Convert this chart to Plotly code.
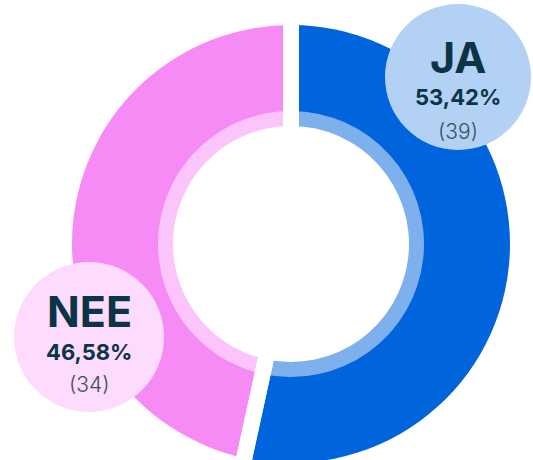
import plotly.graph_objects as go

labels = ["JA", "NEE"]
values = [39, 34]
percent_labels = ["53,42%", "46,58%"]
count_labels = ["(39)", "(34)"]

dark_colors = ["#0064DC", "#F78BF6"]
band_colors = ["#7EB0EE", "#FBC4FB"]
bubble_colors = ["#B3D1F5", "#FCDBFC"]
text_color = "#0B3447"

W, H = 533, 490
CX, CY = 291, 244  # donut centre in pixels from top-left


def dom(r):
    return dict(x=[(CX - r) / W, (CX + r) / W],
                y=[(H - CY - r) / H, (H - CY + r) / H])


fig = go.Figure()
# outer ring
fig.add_trace(go.Pie(labels=labels, values=values, sort=False, direction="clockwise",
                     rotation=0, hole=126 / 219, domain=dom(219),
                     marker=dict(colors=dark_colors, line=dict(width=0)),
                     textinfo="none", hoverinfo="label+percent+value", showlegend=False))
# inner light band
fig.add_trace(go.Pie(labels=labels, values=values, sort=False, direction="clockwise",
                     rotation=0, hole=118 / 133, domain=dom(133),
                     marker=dict(colors=band_colors, line=dict(width=0)),
                     textinfo="none", hoverinfo="skip", showlegend=False))
# gap cutter
fig.add_trace(go.Pie(labels=labels, values=values, sort=False, direction="clockwise",
                     rotation=0, hole=0, domain=dom(228),
                     marker=dict(colors=["rgba(0,0,0,0)"] * 2, line=dict(color="white", width=16)),
                     textinfo="none", hoverinfo="skip", showlegend=False))

bubbles = [(458, 77, 73), (89, 337, 75)]
text_y = [(57, 97, 131), (311, 352, 384)]


def px(x):
    return x / W


def py(y):
    return 1 - y / H


for i, (bx, by, br) in enumerate(bubbles):
    fig.add_shape(type="circle", xref="paper", yref="paper", layer="above",
                  x0=px(bx - br), x1=px(bx + br), y0=py(by + br), y1=py(by - br),
                  fillcolor=bubble_colors[i], line=dict(width=0))
    ty = text_y[i]
    fig.add_annotation(x=px(bx), y=py(ty[0]), xref="paper", yref="paper", showarrow=False,
                       text=labels[i], font=dict(family="Inter", size=43, color=text_color, weight=700),
                       xanchor="center", yanchor="middle")
    fig.add_annotation(x=px(bx), y=py(ty[1]), xref="paper", yref="paper", showarrow=False,
                       text=percent_labels[i], font=dict(family="Inter", size=22, color=text_color, weight=700),
                       xanchor="center", yanchor="middle")
    fig.add_annotation(x=px(bx), y=py(ty[2]), xref="paper", yref="paper", showarrow=False,
                       text=count_labels[i], font=dict(family="Inter", size=21, color="#3D4F5C", weight=300),
                       xanchor="center", yanchor="middle")

fig.update_layout(width=W, height=H, margin=dict(l=0, r=0, t=0, b=0),
                  paper_bgcolor="white", plot_bgcolor="white")

fig.write_html("out.html", config={"displayModeBar": False},
               post_script="document.body.style.margin='0';document.body.style.overflow='hidden';document.documentElement.style.overflow='hidden';")
